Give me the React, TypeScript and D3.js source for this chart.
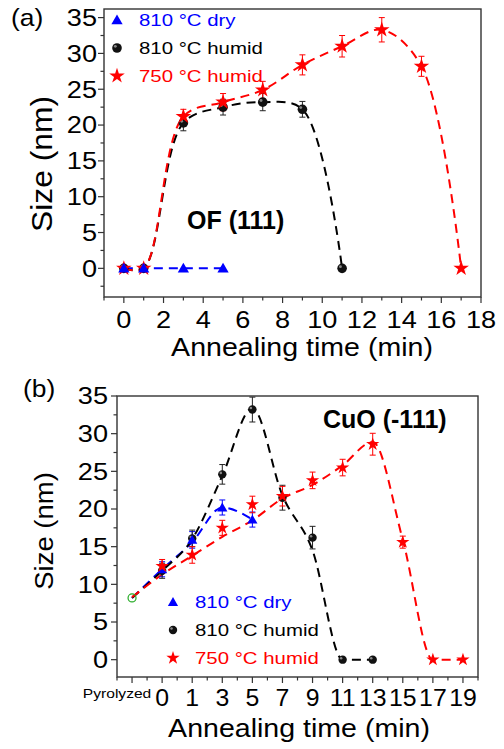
import React from "react";
import * as d3 from "d3";

// ---------- data: panel (a) OF (111) ----------
const topDryT = [0, 1, 3, 5];
const topDryV = [0, 0, 0, 0];
const topHumT = [0, 1, 3, 5, 7, 9, 11];
const topHumV = [0, 0, 20.3, 22.5, 23.2, 22.2, 0];
const topHumE = [0, 0, 1.1, 1.1, 1.2, 1.1, 0];
const top750T = [0, 1, 3, 5, 7, 9, 11, 13, 15, 17];
const top750V = [0, 0, 21.2, 23.2, 24.9, 28.4, 31.0, 33.3, 28.2, 0];
const top750E = [0, 0, 1.0, 1.2, 1.2, 1.4, 1.5, 1.7, 1.4, 0];
const topXTicks = [0, 2, 4, 6, 8, 10, 12, 14, 16, 18];
const yTicks = [0, 5, 10, 15, 20, 25, 30, 35];

// ---------- data: panel (b) CuO (-111) ----------
const botLabels = ["Pyrolyzed", "0", "1", "3", "5", "7", "9", "11", "13", "15", "17", "19"];
const botDryV = [8.2, 12.0, 15.9, 20.2, 18.6];
const botDryE = [0, 1.0, 1.1, 1.0, 1.0];
const botHumV = [8.2, 11.8, 16.1, 24.6, 33.2, 21.5, 16.2, 0, 0];
const botHumE = [0, 1.0, 1.1, 1.3, 1.65, 1.65, 1.5, 0, 0];
const bot750V = [8.3, 12.4, 13.9, 17.5, 20.6, 21.7, 23.8, 25.5, 28.6, 15.6, 0, 0];
const bot750E = [0, 0.9, 1.1, 1.0, 1.1, 1.3, 1.1, 1.1, 1.45, 0.8, 0, 0];
// dashed guide curves (as drawn in the picture)
const botDryFit = [8.2, 12.0, 15.6, 20.2, 18.6];
const botHumFit = [8.2, 11.8, 16.0, 24.4, 33.4, 21.8, 14.5, 0, 0];
const bot750Fit = [8.3, 11.3, 13.8, 16.3, 18.5, 21.4, 23.2, 25.8, 28.9, 15.9, 0, 0];

const FONT = "'Liberation Sans', Arial, sans-serif";
const BLUE = "#0000ff";
const RED = "#ff0000";
const BLACK = "#000000";

type TProps = {
  x: number; y: number; sx?: number; rot?: number; size: number;
  anchor?: string; weight?: string; fill?: string; dy?: string; children: React.ReactNode;
};
const T = ({ x, y, sx = 1, rot = 0, size, anchor = "start", weight = "normal", fill = "#000", dy, children }: TProps) => (
  <text
    transform={`translate(${x},${y}) rotate(${rot}) scale(${sx},1)`}
    fontSize={size}
    textAnchor={anchor as any}
    fontWeight={weight}
    fill={fill}
    fontFamily={FONT}
    dy={dy}
  >
    {children}
  </text>
);

const triPath = (s: number) => d3.symbol(d3.symbolTriangle, s)()!;
const starPath = (s: number) => d3.symbol(d3.symbolStar, s)()!;

const Marker = ({ kind, x, y, big }: { kind: string; x: number; y: number; big: boolean }) => {
  if (kind === "tri") return <path d={triPath(big ? 55 : 45)} transform={`translate(${x},${y + 1})`} fill={BLUE} />;
  if (kind === "star") return <path d={starPath(big ? 75 : 55)} transform={`translate(${x},${y})`} fill={RED} />;
  const r = big ? 4.8 : 4.2;
  return (
    <g>
      <circle cx={x} cy={y} r={r} fill="#111" />
      <circle cx={x - r * 0.35} cy={y - r * 0.35} r={r * 0.3} fill="#888" />
    </g>
  );
};

const dash = "9,6";

function Frame({ x0, x1, y0, y1 }: { x0: number; x1: number; y0: number; y1: number }) {
  return <rect x={x0} y={y0} width={x1 - x0} height={y1 - y0} fill="none" stroke="#333" strokeWidth={1.4} />;
}

export default function App() {
  // ---------- scales ----------
  const xA = d3.scaleLinear().domain([-1, 18]).range([104, 481]);
  const yA = d3.scaleLinear().domain([-4, 36.2]).range([297, 9]);
  const xB = d3.scaleLinear().domain([-0.5, 11.5]).range([117, 478]);
  const yB = d3.scaleLinear().domain([-2.3, 35]).range([677, 396]);

  const lineA = d3
    .line<[number, number]>()
    .x((d) => xA(d[0]))
    .y((d) => yA(d[1]))
    .curve(d3.curveCatmullRom.alpha(0.5));
  const lineAlin = d3
    .line<[number, number]>()
    .x((d) => xA(d[0]))
    .y((d) => yA(d[1]));
  const lineB = d3
    .line<number>()
    .x((_, i) => xB(i))
    .y((d) => yB(d))
    .curve(d3.curveMonotoneX);

  const zip = (a: number[], b: number[]) => a.map((v, i) => [v, b[i]] as [number, number]);

  const errBar = (x: number, y: number, e: number, ys: d3.ScaleLinear<number, number>, color: string, key: string) =>
    e > 0 ? (
      <g key={key} stroke={color} strokeWidth={1}>
        <line x1={x} x2={x} y1={ys(y - e)} y2={ys(y + e)} />
        <line x1={x - 3} x2={x + 3} y1={ys(y - e)} y2={ys(y - e)} />
        <line x1={x - 3} x2={x + 3} y1={ys(y + e)} y2={ys(y + e)} />
      </g>
    ) : null;

  // ---------- ticks ----------
  const [aX0, aX1] = xA.range();
  const [aY1, aY0] = yA.range();
  const [bX0, bX1] = xB.range();
  const [bY1, bY0] = yB.range();
  const minorA = d3.range(-1, 18.01, 1);
  const minorYA = d3.range(-2.5, 36, 2.5);
  const minorYB = d3.range(-2.5, 35.01, 2.5).filter((v) => v >= -2.3);
  const minorB = d3.range(-0.5, 11.51, 0.5);

  const tickA = 6, tickMin = 3.5;

  return (
    <svg width={504} height={749} style={{ position: "absolute", left: 0, top: 0, background: "#fff" }}>
      <rect width={504} height={749} fill="#fff" />

      {/* ================= PANEL (a) ================= */}
      <Frame x0={aX0} x1={aX1} y0={aY0} y1={aY1} />
      {minorA.map((v) => (
        <line key={"amx" + v} x1={xA(v)} x2={xA(v)} y1={aY1} y2={aY1 + (v % 2 === 0 ? tickA : tickMin)} stroke="#333" strokeWidth={1.2} />
      ))}
      {topXTicks.map((v) => (
        <T key={"axl" + v} x={xA(v)} y={328} size={23} sx={1.18} anchor="middle">{v}</T>
      ))}
      {minorYA.map((v) => (
        <line key={"amy" + v} x1={aX0} x2={aX0 - (v % 5 === 0 ? tickA : tickMin)} y1={yA(v)} y2={yA(v)} stroke="#333" strokeWidth={1.2} />
      ))}
      {yTicks.map((v) => (
        <T key={"ayl" + v} x={97} y={yA(v)} size={23} sx={1.18} anchor="end" dy="0.36em">{v}</T>
      ))}
      <T x={52} y={164} rot={-90} size={30} sx={1.06} anchor="middle">Size (nm)</T>
      <T x={302} y={356} size={25.5} sx={1.12} anchor="middle">Annealing time (min)</T>
      <T x={11} y={26} size={24} sx={1.1}>(a)</T>

      <path d={lineAlin(zip(topDryT, topDryV))!} fill="none" stroke={BLUE} strokeWidth={2} strokeDasharray={dash} />
      <path d={lineA(zip(topHumT, topHumV))!} fill="none" stroke={BLACK} strokeWidth={2} strokeDasharray={dash} />
      <path d={lineA(zip(top750T, top750V))!} fill="none" stroke={RED} strokeWidth={2} strokeDasharray={dash} />
      {topHumT.map((t, i) => errBar(xA(t), topHumV[i], topHumE[i], yA, "#222", "ahe" + i))}
      {top750T.map((t, i) => errBar(xA(t), top750V[i], top750E[i], yA, RED, "are" + i))}
      {topHumT.map((t, i) => <Marker key={"ahm" + i} kind="circ" x={xA(t)} y={yA(topHumV[i])} big />)}
      {top750T.map((t, i) => <Marker key={"arm" + i} kind="star" x={xA(t)} y={yA(top750V[i])} big />)}
      {topDryT.map((t, i) => <Marker key={"adm" + i} kind="tri" x={xA(t)} y={yA(topDryV[i])} big />)}

      <Marker kind="tri" x={117} y={20} big />
      <T x={139} y={20} size={17} sx={1.2} fill={BLUE} dy="0.36em">810 °C dry</T>
      <Marker kind="circ" x={117} y={48} big />
      <T x={139} y={48} size={17} sx={1.2} dy="0.36em">810 °C humid</T>
      <Marker kind="star" x={117} y={76} big />
      <T x={139} y={76} size={17} sx={1.2} fill={RED} dy="0.36em">750 °C humid</T>

      <T x={187} y={229} size={25} weight="bold">OF (111)</T>

      {/* ================= PANEL (b) ================= */}
      <Frame x0={bX0} x1={bX1} y0={bY0} y1={bY1} />
      {minorB.map((v) => (
        <line key={"bmx" + v} x1={xB(v)} x2={xB(v)} y1={bY1} y2={bY1 + (Number.isInteger(v) ? tickA : tickMin)} stroke="#333" strokeWidth={1.2} />
      ))}
      {botLabels.map((l, i) =>
        i === 0 ? (
          <T key={"bxl" + i} x={xB(i) - 15} y={698} size={13} sx={1.2} anchor="middle">{l}</T>
        ) : (
          <T key={"bxl" + i} x={xB(i)} y={706} size={23} sx={1.08} anchor="middle">{l}</T>
        )
      )}
      {minorYB.map((v) => (
        <line key={"bmy" + v} x1={bX0} x2={bX0 - (v % 5 === 0 ? tickA : tickMin)} y1={yB(v)} y2={yB(v)} stroke="#333" strokeWidth={1.2} />
      ))}
      {yTicks.map((v) => (
        <T key={"byl" + v} x={108} y={yB(v)} size={23} sx={1.18} anchor="end" dy="0.36em">{v}</T>
      ))}
      <T x={53} y={531} rot={-90} size={25} sx={1.1} anchor="middle">Size (nm)</T>
      <T x={299} y={737} size={25.5} sx={1.12} anchor="middle">Annealing time (min)</T>
      <T x={23} y={397} size={24} sx={1.1}>(b)</T>

      <path d={lineB(botDryFit)!} fill="none" stroke={BLUE} strokeWidth={2} strokeDasharray={dash} />
      <path d={lineB(botHumFit)!} fill="none" stroke={BLACK} strokeWidth={2} strokeDasharray={dash} />
      <path d={lineB(bot750Fit)!} fill="none" stroke={RED} strokeWidth={2} strokeDasharray={dash} />
      {botDryV.map((v, i) => errBar(xB(i), v, botDryE[i], yB, BLUE, "bde" + i))}
      {botHumV.map((v, i) => errBar(xB(i), v, botHumE[i], yB, "#222", "bhe" + i))}
      {bot750V.map((v, i) => errBar(xB(i), v, bot750E[i], yB, RED, "bre" + i))}
      <circle cx={xB(0)} cy={yB(botDryV[0])} r={4} fill="none" stroke="#22aa22" strokeWidth={1.2} />
      {botHumV.map((v, i) => (i === 0 ? null : <Marker key={"bhm" + i} kind="circ" x={xB(i)} y={yB(v)} big={false} />))}
      {botDryV.map((v, i) => (i === 0 ? null : <Marker key={"bdm" + i} kind="tri" x={xB(i)} y={yB(v)} big={false} />))}
      {bot750V.map((v, i) => (i === 0 ? null : <Marker key={"brm" + i} kind="star" x={xB(i)} y={yB(v)} big={false} />))}

      <Marker kind="tri" x={173} y={602} big={false} />
      <T x={195} y={602} size={17} sx={1.2} fill={BLUE} dy="0.36em">810 °C dry</T>
      <Marker kind="circ" x={173} y={630} big={false} />
      <T x={195} y={630} size={17} sx={1.2} dy="0.36em">810 °C humid</T>
      <Marker kind="star" x={173} y={658} big={false} />
      <T x={195} y={658} size={17} sx={1.2} fill={RED} dy="0.36em">750 °C humid</T>

      <T x={323} y={428} size={25} weight="bold">CuO (-111)</T>
    </svg>
  );
}
